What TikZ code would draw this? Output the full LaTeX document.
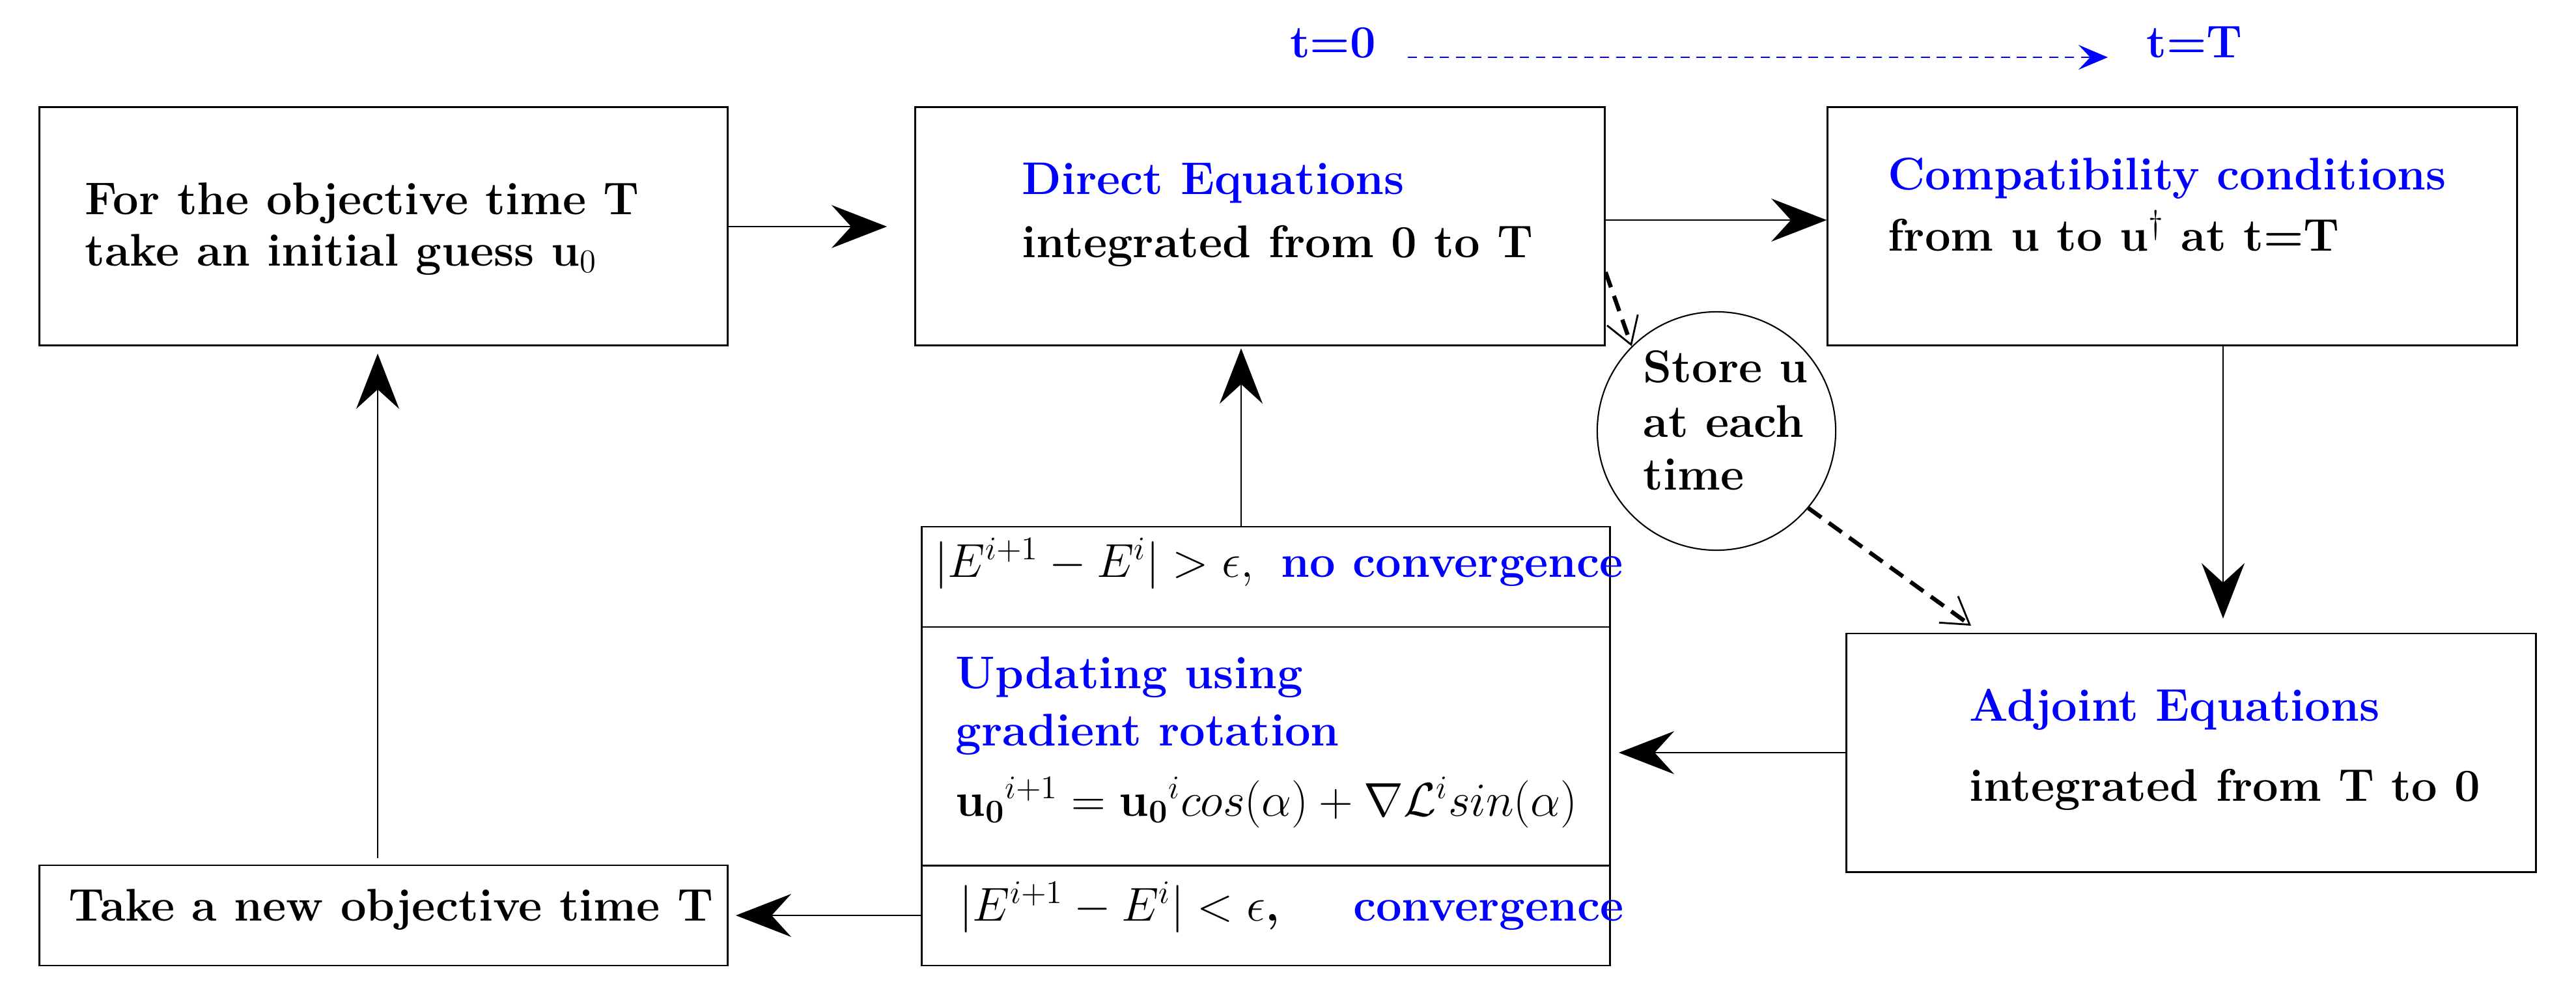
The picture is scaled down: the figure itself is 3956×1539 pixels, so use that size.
\documentclass[tikz,border=0pt]{standalone}
\usepackage{amsmath,amssymb}
\usetikzlibrary{arrows.meta}
\tikzset{
  boxx/.style={draw,line width=0.8pt,inner sep=0pt},
  txt/.style={anchor=base west,inner sep=0pt,font=\fontsize{20}{24}\selectfont\bfseries},
  big/.style={line width=0.6pt,-{Stealth[length=8.5mm,width=6.6mm,inset=3mm]}},
  dsh/.style={line width=1.8pt,dash pattern=on 7pt off 4pt,-{Straight Barb[length=4mm,width=5mm,line width=0.8pt]}},
}
\begin{document}
\begin{tikzpicture}[x=0.01cm,y=-0.01cm]
\useasboundingbox (0,0) rectangle (3956,1539);
% boxes
\node[boxx,minimum width=10.56cm,minimum height=3.65cm] (b1) at (589,347.5) {};
\node[boxx,minimum width=10.58cm,minimum height=3.65cm] (dir) at (1935,347.5) {};
\node[boxx,minimum width=10.58cm,minimum height=3.65cm] (cmp) at (3336,347.5) {};
\node[boxx,minimum width=10.58cm,minimum height=3.66cm] (adj) at (3365,1156) {};
\node[boxx,minimum width=10.56cm,minimum height=1.54cm] (tnew) at (589,1406) {};
\node[boxx,minimum width=10.56cm,minimum height=1.54cm] (ncv) at (1944,886) {};
\node[boxx,minimum width=10.56cm,minimum height=3.66cm] (upd) at (1944,1146) {};
\node[boxx,minimum width=10.56cm,minimum height=1.54cm] (cv) at (1944,1406) {};
\node[draw,circle,line width=0.6pt,minimum size=3.66cm,inner sep=0pt] (st) at (2636,662) {};
% texts
\node[txt] (t1a) at (130,329) {For the objective time T};
\node[txt] (t1b) at (130,408) {take an initial guess u$_0$};
\node[txt,text=blue] (t2a) at (1569,298) {Direct Equations};
\node[txt] (t2b) at (1569,395) {integrated from 0 to T};
\node[txt,text=blue] (t3a) at (2899,291) {Compatibility conditions};
\node[txt] (t3b) at (2899,385) {from u to u$^\dagger$ at t=T};
\node[txt] (t4a) at (2523,587) {Store u};
\node[txt] (t4b) at (2523,671) {at each};
\node[txt] (t4c) at (2523,752) {time};
\node[txt,text=blue] (t5a) at (3024,1107) {Adjoint Equations};
\node[txt] (t5b) at (3024,1230) {integrated from T to 0};
\node[txt] (t6) at (1435,886) {\mdseries$|E^{i+1}-E^{i}|>\epsilon,$\ \ \textcolor{blue}{\bfseries no convergence}};
\node[txt,text=blue] (t7a) at (1467,1057) {Updating using};
\node[txt,text=blue] (t7b) at (1467,1145) {gradient rotation};
\node[txt] (t7c) at (1467,1253) {\mdseries$\mathbf{u_0}^{i+1}=\mathbf{u_0}^{i}cos(\alpha)+\nabla\mathcal{L}^{i}sin(\alpha)$};
\node[txt] (t8) at (1473,1414) {\mdseries$|E^{i+1}-E^{i}|<\epsilon$\textbf{,}\quad\ \ \textcolor{blue}{\bfseries convergence}};
\node[txt] (t9) at (105,1414) {Take a new objective time T};
\node[txt,text=blue,anchor=base] (tz) at (2047,88) {t=0};
\node[txt,text=blue,anchor=base] (tT) at (3370,88) {t=T};
% connectors
\draw[blue,line width=0.6pt,dash pattern=on 4pt off 3pt,-{Stealth[length=4.5mm,width=3.8mm,inset=1.8mm]}] (2162,88) -- (3237,88);
\draw[big] (b1.east |- 0,348) -- ([xshift=-12]dir.west |- 0,348);
\draw[big] (dir.east |- 0,338) -- (cmp.west |- 0,338);
\draw[big] (3414,530) -- (3414,950);
\draw[big] (adj.west |- 0,1156) -- (2486,1156);
\draw[big] (1906,809) -- (1906,535);
\draw[big] (580,1318) -- (580,543);
\draw[big] (cv.west) -- (1130,1406);
\draw[dsh] (dir.east |- 0,418) -- (st.135);
\draw[dsh] (st.-40) -- (3027,961);
\end{tikzpicture}
\end{document}
